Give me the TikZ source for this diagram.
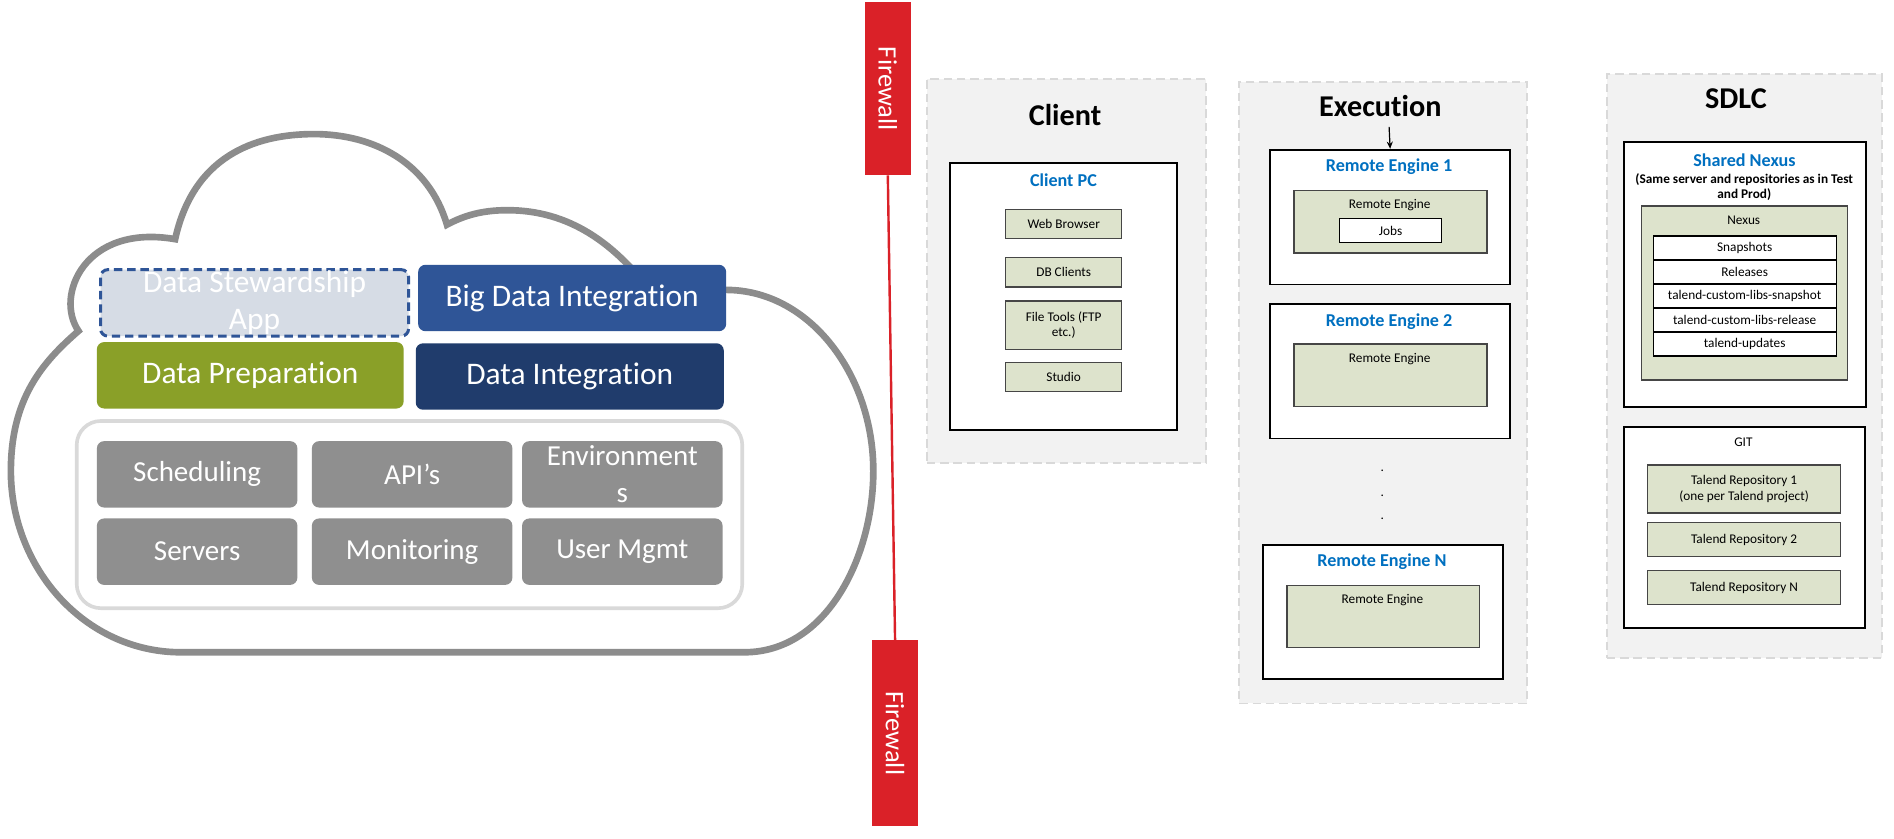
\documentclass[tikz,border=0pt]{standalone}
\usepackage{fontspec}
\setmainfont{Carlito}[Ligatures=NoCommon]
\usetikzlibrary{arrows.meta}

\definecolor{cloudgray}{RGB}{140,140,140}
\definecolor{ringgray}{RGB}{217,217,217}
\definecolor{tilegray}{RGB}{143,143,143}
\definecolor{stewfill}{RGB}{214,220,229}
\definecolor{bigblue}{RGB}{47,85,151}
\definecolor{dinavy}{RGB}{32,60,108}
\definecolor{prepgreen}{RGB}{138,160,40}
\definecolor{fwred}{RGB}{218,33,40}
\definecolor{panelfill}{RGB}{242,242,242}
\definecolor{panelline}{RGB}{217,217,217}
\definecolor{compfill}{RGB}{221,227,204}
\definecolor{compline}{RGB}{70,70,70}
\definecolor{titleblue}{RGB}{0,112,192}

\tikzset{
  appbox/.style={rounded corners=6pt, anchor=north west, inner sep=0pt, minimum width=255pt, minimum height=55pt,
    text=white, align=center, font=\fontsize{26}{31}\selectfont},
  tile/.style={rounded corners=6pt, anchor=north west, inner sep=0pt, minimum width=166pt, minimum height=55pt,
    fill=tilegray, text=white, align=center, font=\fontsize{24}{31}\selectfont},
  firewall/.style={fill=fwred, text=white, rotate=-90, inner sep=0pt, font=\fontsize{22}{26}\selectfont},
  panel/.style={draw=panelline, fill=panelfill, line width=1.5pt, dash pattern=on 7pt off 4pt, anchor=north west, inner sep=0pt},
  hostbox/.style={draw=black, fill=white, line width=1.6pt, anchor=north west, inner sep=0pt},
  enginebox/.style={draw=compline, fill=compfill, line width=1.2pt, anchor=north west, inner sep=0pt},
  compbox/.style={enginebox, align=center, font=\fontsize{11}{13}\selectfont},
  listrow/.style={draw=black, fill=white, line width=1pt, anchor=north west, inner sep=0pt,
    minimum width=151.5pt, minimum height=19.9pt, font=\fontsize{11}{13}\selectfont},
  panelhead/.style={font=\bfseries\fontsize{25}{30}\selectfont},
  hosthead/.style={text=titleblue, font=\bfseries\fontsize{15}{18}\selectfont},
  plain/.style={font=\fontsize{11}{13}\selectfont, align=center}
}

\begin{document}
\begin{tikzpicture}[x=1pt, y=-1pt]
\useasboundingbox (0,0) rectangle (1568,694);

% cloud
\draw [cloudgray, line width=5.5pt, fill=white] (150,540)
  .. controls (70,540) and (9,470) .. (9,390)
  .. controls (9,330) and (35,300) .. (65,274)
  .. controls (45,245) and (70,185) .. (145,198)
  .. controls (160,130) and (210,111) .. (260,111)
  .. controls (310,111) and (355,135) .. (370,186)
  .. controls (385,178) and (400,174) .. (420,174)
  .. controls (470,174) and (510,200) .. (545,250)
  .. controls (565,243) and (580,240) .. (601,240)
  .. controls (670,240) and (723,310) .. (723,390)
  .. controls (723,460) and (685,540) .. (616,540) -- cycle;

\node [rounded corners=20pt, draw=ringgray, line width=3pt, fill=white, anchor=north west, inner sep=0pt,
  minimum width=551pt, minimum height=155pt] (platform) at (62,347) {};

\node [appbox, fill=stewfill, draw=bigblue, line width=2.5pt, dash pattern=on 7pt off 4pt] (steward) at (82,222) {Data Stewardship\\App};
\node [appbox, fill=bigblue] (bigdata) at (346,219) {Big Data Integration};
\node [appbox, fill=prepgreen, minimum width=254pt] (prep) at (80,283) {Data Preparation};
\node [appbox, fill=dinavy] (dataint) at (344,284) {Data Integration};

\node [tile] (sched) at (80,365) {Scheduling};
\node [tile] (apis) at (258,365) {API’s};
\node [tile] (envs) at (432,365) {Environment\\s};
\node [tile] (servers) at (80,429) {Servers};
\node [tile] (monitor) at (258,429) {Monitoring};
\node [tile] (users) at (432,429) {User Mgmt};

% firewall
\node [firewall, minimum width=143pt, minimum height=38pt] (fwtop) at (735,73.5) {Firewall};
\node [firewall, minimum width=154pt, minimum height=38pt] (fwbot) at (741,607) {Firewall};
\draw [fwred, line width=2pt] (fwtop.east) -- (fwbot.west);

% client
\node [panel, minimum width=231pt, minimum height=318pt] (clientpanel) at (766.5,64.8) {};
\node [panelhead] (clienthead) at (881.7,95.1) {Client};
\node [hostbox, minimum width=187.4pt, minimum height=220.8pt] (clientpc) at (786,134.5) {};
\node [hosthead] (clientpchead) at (880.4,149.4) {Client PC};
\node [compbox, minimum width=96pt, minimum height=24pt] (browser) at (832,173) {Web Browser};
\node [compbox, minimum width=96pt, minimum height=24.2pt] (dbclients) at (832,212.7) {DB Clients};
\node [compbox, minimum width=96pt, minimum height=40.2pt] (filetools) at (832,248.5) {File Tools (FTP\\etc.)};
\node [compbox, minimum width=96pt, minimum height=24.2pt] (studio) at (832,299.4) {Studio};

% execution
\node [panel, minimum width=238.4pt, minimum height=514.8pt] (execpanel) at (1025.2,66.8) {};
\node [panelhead] (exechead) at (1142.7,87.4) {Execution};

\node [hostbox, minimum width=199.1pt, minimum height=111.5pt] (re1) at (1050.5,123.2) {};
\node [hosthead] (re1head) at (1150,138.3) {Remote Engine 1};
\node [enginebox, minimum width=159.5pt, minimum height=51.7pt] (re1eng) at (1070.8,157.1) {};
\node [plain] (re1label) at (1150.5,170) {Remote Engine};
\node [listrow, minimum width=84.1pt, minimum height=19.8pt] (jobs) at (1108.7,180.5) {Jobs};

\node [hostbox, minimum width=199.1pt, minimum height=111.5pt] (re2) at (1050.5,250.7) {};
\node [hosthead] (re2head) at (1150,266.4) {Remote Engine 2};
\node [enginebox, minimum width=159.5pt, minimum height=51.7pt] (re2eng) at (1070.8,284.3) {};
\node [plain] (re2label) at (1150.5,297) {Remote Engine};

\foreach \y [count=\i] in {389.5,410.1,429.4}
  \node [plain] (gap\i) at (1144.4,\y) {.};

\node [hostbox, minimum width=199.1pt, minimum height=111.5pt] (ren) at (1044.5,450) {};
\node [hosthead] (renhead) at (1144.1,465.2) {Remote Engine N};
\node [enginebox, minimum width=159.5pt, minimum height=51.7pt] (reneng) at (1064.8,483.9) {};
\node [plain] (renlabel) at (1144.5,496.8) {Remote Engine};

\coordinate (feed) at (1150,105);
\draw [-{Stealth[length=6pt, width=5pt]}, line width=1pt] (feed) -- (re1.north);

% sdlc
\node [panel, minimum width=227.5pt, minimum height=483pt] (sdlcpanel) at (1329.5,60.7) {};
\node [panelhead] (sdlchead) at (1437.2,81.4) {SDLC};

\node [hostbox, minimum width=200.6pt, minimum height=219.4pt] (nexushost) at (1343.5,116.6) {};
\node [hosthead] (nexushead) at (1444.2,132.3) {Shared Nexus};
\node [font=\bfseries\fontsize{11}{12.9}\selectfont, align=center] (nexusnote) at (1444,154.8) {(Same server and repositories as in Test\\and Prod)};
\node [enginebox, minimum width=170.7pt, minimum height=144pt] (nexus) at (1358.3,170) {};
\node [plain] (nexuslabel) at (1443.6,182.4) {Nexus};
\foreach \repo [count=\i] in {Snapshots, Releases, talend-custom-libs-snapshot, talend-custom-libs-release, talend-updates}
  \node [listrow] (repo\i) at (1368.1,{194.8+19.9*(\i-1)}) {\repo};

\node [hostbox, minimum width=199.5pt, minimum height=166pt] (git) at (1343.5,352.8) {};
\node [plain] (githead) at (1443.3,366.1) {GIT};
\node [compbox, minimum width=159.5pt, minimum height=40pt] (talend1) at (1363.5,384.2) {Talend Repository 1\\(one per Talend project)};
\node [compbox, minimum width=159.5pt, minimum height=27.9pt] (talend2) at (1363.5,432.1) {Talend Repository 2};
\node [compbox, minimum width=159.5pt, minimum height=28pt] (talendn) at (1363.5,471.8) {Talend Repository N};

\end{tikzpicture}
\end{document}
